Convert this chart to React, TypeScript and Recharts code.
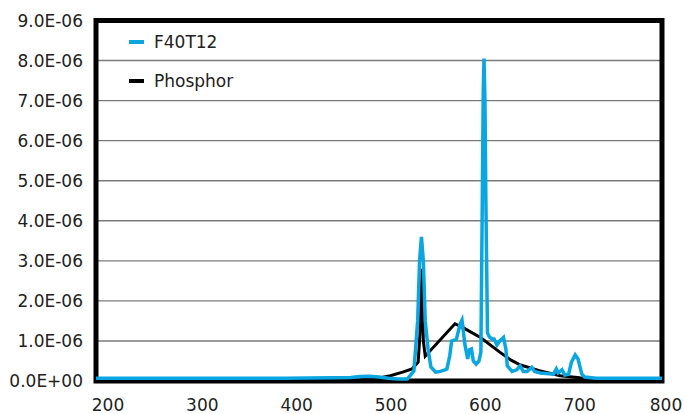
import React from 'react';
import { LineChart, Line, XAxis, YAxis, CartesianGrid, ReferenceArea } from 'recharts';

// Wavelength (nm) vs spectral power (units of 1E-06)
const f40t12Nm = [200, 300, 400, 450, 470, 480, 490, 500, 510, 520, 530, 537, 541, 543, 545, 547, 549, 552, 555, 560, 565, 570, 572, 575, 577, 582, 586, 588, 591, 594, 596, 598, 600, 603, 606, 608, 609.5, 610.5, 611.3, 612.3, 613.3, 615, 617, 620, 622, 625, 628, 632, 634.5, 636, 641, 646, 649.5, 653, 657, 662, 665, 671, 680, 685, 688, 690, 694, 697, 701, 704, 708, 711, 715, 718, 730, 800];
const f40t12Val = [0.07, 0.07, 0.07, 0.08, 0.09, 0.11, 0.12, 0.1, 0.07, 0.05, 0.05, 0.25, 1.5, 3.0, 3.6, 3.0, 1.5, 0.8, 0.35, 0.22, 0.24, 0.28, 0.3, 0.63, 1.0, 1.04, 1.42, 1.52, 0.92, 0.55, 0.78, 0.8, 0.5, 0.42, 0.5, 0.72, 4.5, 7.2, 8.05, 7.0, 4.5, 1.2, 1.1, 1.05, 1.05, 0.9, 1.0, 1.09, 0.8, 0.38, 0.24, 0.28, 0.38, 0.24, 0.24, 0.34, 0.24, 0.2, 0.18, 0.17, 0.3, 0.2, 0.28, 0.15, 0.17, 0.47, 0.65, 0.55, 0.17, 0.1, 0.07, 0.07];

const phosphorNm = [200, 400, 450, 480, 495, 512, 525, 535, 541.5, 543.5, 545.5, 547, 549, 580.5, 590, 608, 628, 640, 650, 670, 692, 713, 740, 800];
const phosphorVal = [0.0, 0.0, 0.01, 0.03, 0.05, 0.13, 0.22, 0.3, 0.47, 1.2, 2.8, 1.0, 0.62, 1.43, 1.32, 1.08, 0.72, 0.52, 0.4, 0.26, 0.13, 0.08, 0.03, 0.0];

const xTicks = [200, 300, 400, 500, 600, 700, 800];
const yTicks = [0, 1, 2, 3, 4, 5, 6, 7, 8, 9];
const yTickLabels = ['0.0E+00', '1.0E-06', '2.0E-06', '3.0E-06', '4.0E-06', '5.0E-06', '6.0E-06', '7.0E-06', '8.0E-06', '9.0E-06'];

const seriesNames = ['F40T12', 'Phosphor'];
const seriesColors = ['#0AA6E2', '#000000'];

const f40t12Data = f40t12Nm.map((x, i) => ({ x, y: f40t12Val[i] }));
const phosphorData = phosphorNm.map((x, i) => ({ x, y: phosphorVal[i] }));

const FONT = '"DejaVu Sans", sans-serif';

const XTick = (props: any) => {
  const { x, y, payload } = props;
  const cx = Math.min(x + 12, 666);
  return (
    <text x={cx} y={y + 28} textAnchor="middle" fontFamily={FONT} fontSize={17} fill="#222">
      {payload.value}
    </text>
  );
};

const YTick = (props: any) => {
  const { y, payload } = props;
  const idx = yTicks.indexOf(payload.value);
  return (
    <text x={83} y={y} dy="0.36em" textAnchor="end" fontFamily={FONT} fontSize={17} fill="#222">
      {yTickLabels[idx]}
    </text>
  );
};

export default function App() {
  return (
    <div style={{ position: 'absolute', left: 0, top: 0, width: 685, height: 414, background: '#fff' }}>
      <LineChart width={685} height={414} margin={{ top: 20.5, right: 23, bottom: 0, left: 0 }}>
        <CartesianGrid vertical={false} stroke="#7a7a7a" strokeWidth={1.4} />
        <XAxis
          type="number"
          dataKey="x"
          domain={[200, 800]}
          ticks={xTicks}
          axisLine={false}
          tickLine={false}
          tickSize={0}
          height={33}
          tick={<XTick />}
          allowDataOverflow
        />
        <YAxis
          type="number"
          domain={[0, 9]}
          ticks={yTicks}
          axisLine={false}
          tickLine={false}
          tickSize={0}
          width={96}
          tick={<YTick />}
        />
        <Line data={phosphorData} dataKey="y" type="linear" stroke={seriesColors[1]} strokeWidth={3} dot={false} isAnimationActive={false} name={seriesNames[1]} />
        <Line data={f40t12Data} dataKey="y" type="linear" stroke={seriesColors[0]} strokeWidth={3.5} dot={false} isAnimationActive={false} name={seriesNames[0]} />
        <ReferenceArea x1={200} x2={800} y1={0} y2={9} fill="none" stroke="#000" strokeWidth={5} ifOverflow="visible" />
      </LineChart>
      <div style={{ position: 'absolute', left: 129, top: 22, fontFamily: FONT, fontSize: 17, color: '#222' }}>
        {seriesNames.map((n, i) => (
          <div key={n} style={{ display: 'flex', alignItems: 'center', height: 39 }}>
            <div style={{ width: 15, height: 4, background: seriesColors[i], marginRight: 10 }} />
            <span>{n}</span>
          </div>
        ))}
      </div>
    </div>
  );
}
